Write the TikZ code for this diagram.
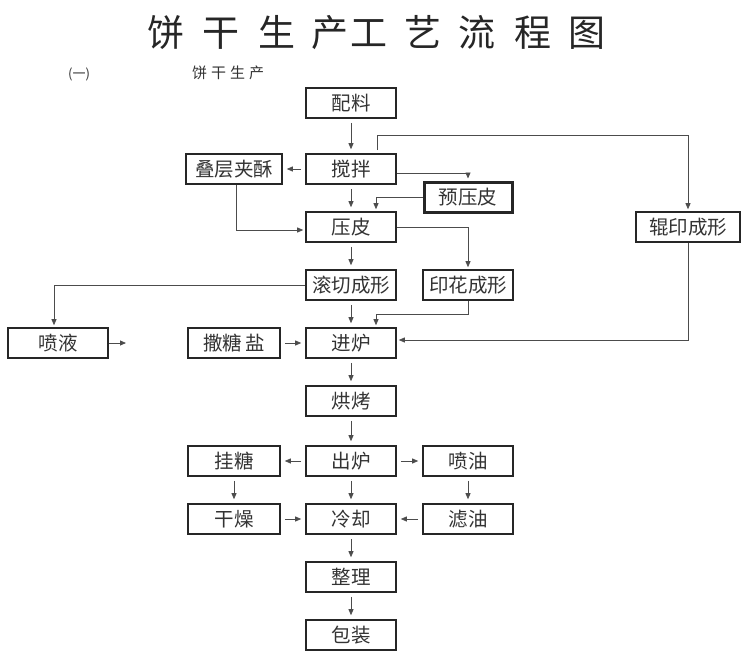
\documentclass[tikz,border=0pt]{standalone}
\usepackage{fontspec}
\newfontfamily\cjk{Noto Sans CJK SC}
\usetikzlibrary{arrows.meta}
\begin{document}
\begin{tikzpicture}[x=1pt,y=-1pt,
  box/.style={draw=black!85, line width=1.6pt, minimum width=90pt, minimum height=30pt,
    inner sep=0pt, font=\cjk\fontsize{19.5}{19.5}\selectfont, text=black!80},
  thickbox/.style={box, line width=3pt},
  arr/.style={draw=black!70, line width=0.8pt, -{Triangle[length=6pt,width=5pt]},
    shorten >=2pt},
  sarr/.style={arr, shorten <=4pt, shorten >=4pt}]
\useasboundingbox (0,0) rectangle (750,669);
% title
\node[anchor=west, font=\cjk\fontsize{37}{37}\selectfont, text=black!85, inner sep=0pt]
  (title) at (147,33) {饼\hspace{18pt}干\hspace{19pt}生\hspace{16pt}产\hspace{2pt}工\hspace{17pt}艺\hspace{17pt}流\hspace{19pt}程\hspace{17pt}图};
\node[anchor=west, font=\cjk\fontsize{13}{13}\selectfont, text=black!80, inner sep=0pt]
  (sec) at (68,74) {(一)};
\node[anchor=west, font=\cjk\fontsize{15}{15}\selectfont, text=black!80, inner sep=0pt]
  (sub) at (192,73) {饼\hspace{4pt}干\hspace{4pt}生\hspace{4pt}产};
% boxes
\node[box] (peiliao) at (351,103) {配料};
\node[box] (jiaoban) at (351,169) {搅拌};
\node[box, minimum width=96pt] (dieceng) at (234,169) {叠层夹酥};
\node[thickbox, minimum width=88pt] (yuyapi) at (468,197) {预压皮};
\node[box] (yapi) at (351,227) {压皮};
\node[box, minimum width=104pt] (gunyin) at (688,227) {辊印成形};
\node[box] (gunqie) at (351,285) {滚切成形};
\node[box] (yinhua) at (468,285) {印花成形};
\node[box, minimum width=100pt] (penye) at (58,343) {喷液};
\node[box, minimum width=92pt] (satang) at (234,343) {撒糖\,盐};
\node[box] (jinlu) at (351,343) {进炉};
\node[box] (hongkao) at (351,401) {烘烤};
\node[box, minimum width=92pt] (guatang) at (234,461) {挂糖};
\node[box] (chulu) at (351,461) {出炉};
\node[box] (penyou) at (468,461) {喷油};
\node[box, minimum width=92pt] (ganzao) at (234,519) {干燥};
\node[box] (lengque) at (351,519) {冷却};
\node[box] (lvyou) at (468,519) {滤油};
\node[box] (zhengli) at (351,577) {整理};
\node[box] (baozhuang) at (351,635) {包装};
\coordinate (penyeend) at (128,343);
% connectors
\draw[sarr] (peiliao) -- (jiaoban);
\draw[arr] ([xshift=26pt,yshift=3pt]jiaoban.north) -- ++(0,-15) -| (gunyin.north);
\draw[sarr] (jiaoban) -- (dieceng);
\draw[arr] ([yshift=-4pt]jiaoban.east) -| (yuyapi.north);
\draw[arr] (yuyapi.west) -| ([xshift=25pt]yapi.north);
\draw[sarr] (jiaoban) -- (yapi);
\draw[arr] ([xshift=2pt]dieceng.south) |- ([yshift=-3pt]yapi.west);
\draw[arr] (yapi.east) -| (yinhua.north);
\draw[sarr] (yapi) -- (gunqie);
\draw[arr] (gunqie.west) -| ([xshift=-4pt]penye.north);
\draw[arr] (penye.east) -- (penyeend);
\draw[sarr] (satang) -- (jinlu);
\draw[sarr] (gunqie) -- (jinlu);
\draw[arr] (yinhua.south) -- ++(0,14) -| ([xshift=25pt]jinlu.north);
\draw[arr] (gunyin.south) |- ([yshift=3pt]jinlu.east);
\draw[sarr] (jinlu) -- (hongkao);
\draw[sarr] (hongkao) -- (chulu);
\draw[sarr] (chulu) -- (guatang);
\draw[sarr] (chulu) -- (penyou);
\draw[sarr] (guatang) -- (ganzao);
\draw[sarr] (penyou) -- (lvyou);
\draw[sarr] (chulu) -- (lengque);
\draw[sarr] (ganzao) -- (lengque);
\draw[sarr] (lvyou) -- (lengque);
\draw[sarr] (lengque) -- (zhengli);
\draw[sarr] (zhengli) -- (baozhuang);
\end{tikzpicture}
\end{document}
